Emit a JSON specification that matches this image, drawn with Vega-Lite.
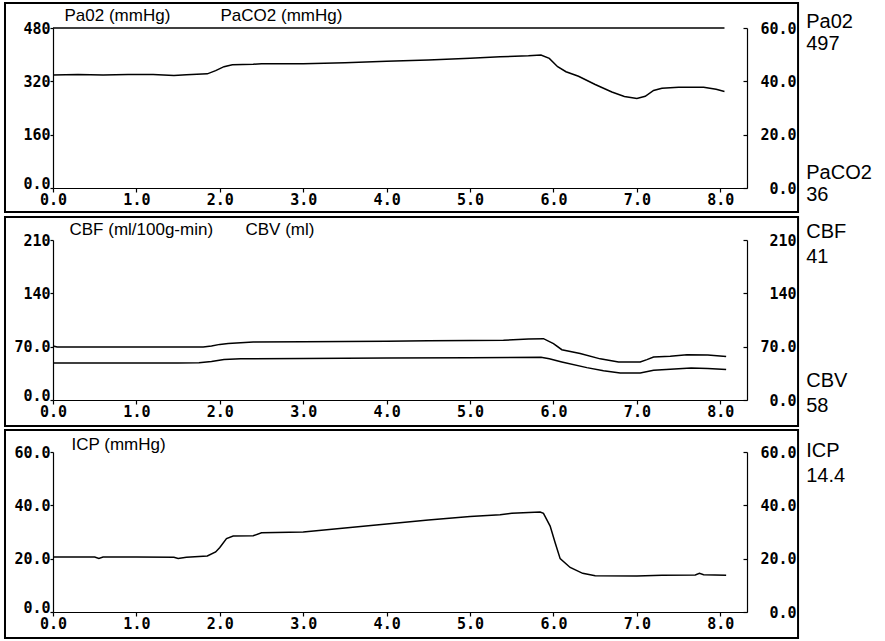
{
  "$schema": "https://vega.github.io/schema/vega-lite/v6.json",
  "background": "white",
  "padding": {"left": 3, "top": 2, "right": 5, "bottom": 2},
  "bounds": "flush",
  "spacing": 52,
  "config": {
    "view": {"stroke": null},
    "axis": {
      "labelFont": "DejaVu Sans Mono", "labelFontWeight": "bold", "labelFontSize": 15, "labelColor": "black",
      "domainColor": "black", "domainWidth": 1.2, "tickColor": "black", "tickWidth": 1.2, "grid": false,
      "labelOverlap": false, "labelFlush": false,
      "titleFont": "Liberation Sans", "titleFontWeight": "normal", "titleFontSize": 17, "titleColor": "black"
    },
    "text": {"font": "Liberation Sans", "fontSize": 20, "color": "black"},
    "line": {"color": "black", "strokeWidth": 1.5}
  },
  "vconcat": [
    {
      "width": 694, "height": 160,
      "resolve": {"scale": {"y": "independent"}},
      "layer": [
        {
          "data": {"values": [{"t": 0, "pao2": 497}, {"t": 1, "pao2": 497}, {"t": 2, "pao2": 497}, {"t": 3, "pao2": 497}, {"t": 4, "pao2": 497}, {"t": 5, "pao2": 497}, {"t": 6, "pao2": 497}, {"t": 7, "pao2": 497}, {"t": 8.05, "pao2": 497}]},
          "mark": {"type": "line"},
          "encoding": {
            "x": {"field": "t", "type": "quantitative", "scale": {"domain": [0, 8.32], "nice": false, "zero": false}, "axis": {"values": [0, 1, 2, 3, 4, 5, 6, 7, 8], "format": ".1f", "tickSize": 4, "labelPadding": 0, "title": null}},
            "y": {"field": "pao2", "type": "quantitative", "scale": {"domain": [0, 480], "nice": false, "clamp": true},
              "axis": {"orient": "left", "values": [0, 160, 320, 480], "labelExpr": "datum.value >= 100 ? format(datum.value, 'd') : format(datum.value, '.1f')", "tickSize": 3, "labelPadding": 0,
                "labelBaseline": {"condition": {"test": "datum.value == 0", "value": "alphabetic"}, "value": "middle"},
                "title": "Pa02 (mmHg)", "titleAngle": 0, "titleAlign": "left", "titleBaseline": "alphabetic", "titleX": 11, "titleY": -8}}
          }
        },
        {
          "data": {"values": [
            {"t": 0, "paco2": 42.4}, {"t": 0.3, "paco2": 42.6}, {"t": 0.6, "paco2": 42.4}, {"t": 0.9, "paco2": 42.6}, {"t": 1.2, "paco2": 42.6}, {"t": 1.45, "paco2": 42.2}, {"t": 1.6, "paco2": 42.5}, {"t": 1.85, "paco2": 42.8}, {"t": 1.95, "paco2": 44}, {"t": 2.05, "paco2": 45.5}, {"t": 2.15, "paco2": 46.2}, {"t": 2.4, "paco2": 46.4}, {"t": 2.5, "paco2": 46.6}, {"t": 3.0, "paco2": 46.6}, {"t": 3.5, "paco2": 47}, {"t": 4.0, "paco2": 47.5}, {"t": 4.5, "paco2": 48}, {"t": 5.0, "paco2": 48.7}, {"t": 5.36, "paco2": 49.2}, {"t": 5.7, "paco2": 49.6}, {"t": 5.85, "paco2": 49.9}, {"t": 5.95, "paco2": 48.6}, {"t": 6.05, "paco2": 45.5}, {"t": 6.15, "paco2": 43.6}, {"t": 6.3, "paco2": 41.9}, {"t": 6.5, "paco2": 38.8}, {"t": 6.7, "paco2": 36}, {"t": 6.85, "paco2": 34.3}, {"t": 7.0, "paco2": 33.6}, {"t": 7.1, "paco2": 34.4}, {"t": 7.2, "paco2": 36.6}, {"t": 7.3, "paco2": 37.4}, {"t": 7.5, "paco2": 37.8}, {"t": 7.8, "paco2": 37.8}, {"t": 7.95, "paco2": 37.0}, {"t": 8.05, "paco2": 36.2}
          ]},
          "mark": {"type": "line"},
          "encoding": {
            "x": {"field": "t", "type": "quantitative", "scale": {"domain": [0, 8.32], "nice": false, "zero": false}, "axis": {"values": [0, 1, 2, 3, 4, 5, 6, 7, 8], "format": ".1f", "tickSize": 4, "labelPadding": 0, "title": null}},
            "y": {"field": "paco2", "type": "quantitative", "scale": {"domain": [0, 60], "nice": false},
              "axis": {"orient": "right", "values": [0, 20, 40, 60], "format": ".1f", "tickSize": -4, "labelPadding": 53, "labelAlign": "right",
                "title": "PaCO2 (mmHg)", "titleAngle": 0, "titleAlign": "left", "titleBaseline": "alphabetic", "titleX": -527, "titleY": -8}}
          }
        },
        {
          "data": {"values": [{"panel": "blood gases"}]},
          "mark": {"type": "rect", "fill": "transparent", "stroke": "black", "strokeWidth": 2},
          "encoding": {
            "x": {"datum": -0.5755, "type": "quantitative", "scale": {"domain": [0, 8.32], "nice": false, "zero": false}, "axis": {"values": [0, 1, 2, 3, 4, 5, 6, 7, 8], "format": ".1f", "tickSize": 4, "labelPadding": 0, "title": null}},
            "x2": {"datum": 8.932},
            "y": {"datum": 555, "type": "quantitative", "scale": {"domain": [0, 480], "nice": false}, "axis": null},
            "y2": {"datum": -72}
          }
        },
        {
          "data": {"values": [{"param": "Pa02", "reading": "497"}, {"param": "PaCO2", "reading": "36"}]},
          "mark": {"type": "text", "align": "left", "baseline": "alphabetic"},
          "encoding": {
            "x": {"datum": 9.03, "type": "quantitative", "scale": {"domain": [0, 8.32], "nice": false, "zero": false}, "axis": {"values": [0, 1, 2, 3, 4, 5, 6, 7, 8], "format": ".1f", "tickSize": 4, "labelPadding": 0, "title": null}},
            "y": {"field": "param", "type": "nominal", "scale": {"type": "point", "domain": ["Pa02", "PaCO2"], "range": [0, 151], "padding": 0}, "axis": null},
            "text": {"field": "param"}
          }
        },
        {
          "data": {"values": [{"param": "Pa02", "reading": "497"}, {"param": "PaCO2", "reading": "36"}]},
          "mark": {"type": "text", "align": "left", "baseline": "alphabetic", "dy": 22},
          "encoding": {
            "x": {"datum": 9.03, "type": "quantitative", "scale": {"domain": [0, 8.32], "nice": false, "zero": false}, "axis": {"values": [0, 1, 2, 3, 4, 5, 6, 7, 8], "format": ".1f", "tickSize": 4, "labelPadding": 0, "title": null}},
            "y": {"field": "param", "type": "nominal", "scale": {"type": "point", "domain": ["Pa02", "PaCO2"], "range": [0, 151], "padding": 0}, "axis": null},
            "text": {"field": "reading"}
          }
        }
      ]
    },
    {
      "width": 694, "height": 160,
      "resolve": {"scale": {"y": "independent"}},
      "layer": [
        {
          "data": {"values": [
            {"t": 0, "cbf": 48.6}, {"t": 0.5, "cbf": 48.6}, {"t": 1.0, "cbf": 48.6}, {"t": 1.5, "cbf": 48.7}, {"t": 1.75, "cbf": 48.8}, {"t": 1.9, "cbf": 50.5}, {"t": 2.05, "cbf": 53}, {"t": 2.25, "cbf": 54.2}, {"t": 3.0, "cbf": 54.5}, {"t": 4.0, "cbf": 55}, {"t": 5.0, "cbf": 55.5}, {"t": 5.85, "cbf": 56}, {"t": 5.95, "cbf": 54}, {"t": 6.1, "cbf": 50}, {"t": 6.4, "cbf": 42.5}, {"t": 6.6, "cbf": 38.5}, {"t": 6.8, "cbf": 35.5}, {"t": 7.04, "cbf": 35.4}, {"t": 7.2, "cbf": 39}, {"t": 7.65, "cbf": 42}, {"t": 7.85, "cbf": 41.5}, {"t": 8.07, "cbf": 40}
          ]},
          "mark": {"type": "line"},
          "encoding": {
            "x": {"field": "t", "type": "quantitative", "scale": {"domain": [0, 8.32], "nice": false, "zero": false}, "axis": {"values": [0, 1, 2, 3, 4, 5, 6, 7, 8], "format": ".1f", "tickSize": 4, "labelPadding": 0, "title": null}},
            "y": {"field": "cbf", "type": "quantitative", "scale": {"domain": [0, 210], "nice": false},
              "axis": {"orient": "left", "values": [0, 70, 140, 210], "labelExpr": "datum.value >= 100 ? format(datum.value, 'd') : format(datum.value, '.1f')", "tickSize": 3, "labelPadding": 0,
                "labelBaseline": {"condition": {"test": "datum.value == 0", "value": "alphabetic"}, "value": "middle"},
                "title": "CBF (ml/100g-min)", "titleAngle": 0, "titleAlign": "left", "titleBaseline": "alphabetic", "titleX": 16, "titleY": -6}}
          }
        },
        {
          "data": {"values": [
            {"t": 0, "cbv": 71}, {"t": 0.05, "cbv": 69.5}, {"t": 0.5, "cbv": 69.5}, {"t": 1.0, "cbv": 69.5}, {"t": 1.5, "cbv": 69.5}, {"t": 1.8, "cbv": 69.6}, {"t": 1.9, "cbv": 71}, {"t": 2.0, "cbv": 73}, {"t": 2.1, "cbv": 74}, {"t": 2.4, "cbv": 76}, {"t": 3.0, "cbv": 76.5}, {"t": 3.5, "cbv": 76.8}, {"t": 4.0, "cbv": 77.2}, {"t": 4.5, "cbv": 77.8}, {"t": 5.0, "cbv": 78}, {"t": 5.4, "cbv": 78.3}, {"t": 5.7, "cbv": 80}, {"t": 5.88, "cbv": 80.5}, {"t": 6.0, "cbv": 74}, {"t": 6.1, "cbv": 66}, {"t": 6.32, "cbv": 61}, {"t": 6.56, "cbv": 54}, {"t": 6.78, "cbv": 50}, {"t": 7.04, "cbv": 50}, {"t": 7.12, "cbv": 53}, {"t": 7.2, "cbv": 56.4}, {"t": 7.4, "cbv": 57.5}, {"t": 7.6, "cbv": 59.5}, {"t": 7.85, "cbv": 59}, {"t": 8.07, "cbv": 57}
          ]},
          "mark": {"type": "line"},
          "encoding": {
            "x": {"field": "t", "type": "quantitative", "scale": {"domain": [0, 8.32], "nice": false, "zero": false}, "axis": {"values": [0, 1, 2, 3, 4, 5, 6, 7, 8], "format": ".1f", "tickSize": 4, "labelPadding": 0, "title": null}},
            "y": {"field": "cbv", "type": "quantitative", "scale": {"domain": [0, 210], "nice": false},
              "axis": {"orient": "right", "values": [0, 70, 140, 210], "labelExpr": "datum.value >= 100 ? format(datum.value, 'd') : format(datum.value, '.1f')", "tickSize": -4, "labelPadding": 53, "labelAlign": "right",
                "title": "CBV (ml)", "titleAngle": 0, "titleAlign": "left", "titleBaseline": "alphabetic", "titleX": -502, "titleY": -6}}
          }
        },
        {
          "data": {"values": [{"panel": "cerebral blood"}]},
          "mark": {"type": "rect", "fill": "transparent", "stroke": "black", "strokeWidth": 2},
          "encoding": {
            "x": {"datum": -0.5755, "type": "quantitative", "scale": {"domain": [0, 8.32], "nice": false, "zero": false}, "axis": {"values": [0, 1, 2, 3, 4, 5, 6, 7, 8], "format": ".1f", "tickSize": 4, "labelPadding": 0, "title": null}},
            "x2": {"datum": 8.932},
            "y": {"datum": 240.19, "type": "quantitative", "scale": {"domain": [0, 210], "nice": false}, "axis": null},
            "y2": {"datum": -34.1}
          }
        },
        {
          "data": {"values": [{"param": "CBF", "reading": "41"}, {"param": "CBV", "reading": "58"}]},
          "mark": {"type": "text", "align": "left", "baseline": "alphabetic"},
          "encoding": {
            "x": {"datum": 9.03, "type": "quantitative", "scale": {"domain": [0, 8.32], "nice": false, "zero": false}, "axis": {"values": [0, 1, 2, 3, 4, 5, 6, 7, 8], "format": ".1f", "tickSize": 4, "labelPadding": 0, "title": null}},
            "y": {"field": "param", "type": "nominal", "scale": {"type": "point", "domain": ["CBF", "CBV"], "range": [-2, 147], "padding": 0}, "axis": null},
            "text": {"field": "param"}
          }
        },
        {
          "data": {"values": [{"param": "CBF", "reading": "41"}, {"param": "CBV", "reading": "58"}]},
          "mark": {"type": "text", "align": "left", "baseline": "alphabetic", "dy": 25},
          "encoding": {
            "x": {"datum": 9.03, "type": "quantitative", "scale": {"domain": [0, 8.32], "nice": false, "zero": false}, "axis": {"values": [0, 1, 2, 3, 4, 5, 6, 7, 8], "format": ".1f", "tickSize": 4, "labelPadding": 0, "title": null}},
            "y": {"field": "param", "type": "nominal", "scale": {"type": "point", "domain": ["CBF", "CBV"], "range": [-2, 147], "padding": 0}, "axis": null},
            "text": {"field": "reading"}
          }
        }
      ]
    },
    {
      "width": 694, "height": 160,
      "resolve": {"scale": {"y": "independent"}},
      "layer": [
        {
          "data": {"name": "icp", "values": [
            {"t": 0, "icp": 20.6}, {"t": 0.5, "icp": 20.6}, {"t": 0.55, "icp": 20.1}, {"t": 0.6, "icp": 20.6}, {"t": 1.0, "icp": 20.6}, {"t": 1.45, "icp": 20.5}, {"t": 1.5, "icp": 20.1}, {"t": 1.6, "icp": 20.5}, {"t": 1.85, "icp": 21}, {"t": 1.95, "icp": 22.5}, {"t": 2.0, "icp": 24.2}, {"t": 2.08, "icp": 27.5}, {"t": 2.16, "icp": 28.5}, {"t": 2.4, "icp": 28.6}, {"t": 2.5, "icp": 29.7}, {"t": 3.0, "icp": 30}, {"t": 3.5, "icp": 31.5}, {"t": 4.0, "icp": 33}, {"t": 4.5, "icp": 34.5}, {"t": 5.0, "icp": 35.8}, {"t": 5.36, "icp": 36.5}, {"t": 5.5, "icp": 37}, {"t": 5.84, "icp": 37.5}, {"t": 5.88, "icp": 37}, {"t": 5.96, "icp": 32.2}, {"t": 6.02, "icp": 26}, {"t": 6.08, "icp": 20}, {"t": 6.2, "icp": 16.7}, {"t": 6.35, "icp": 14.5}, {"t": 6.5, "icp": 13.6}, {"t": 7.0, "icp": 13.5}, {"t": 7.3, "icp": 13.8}, {"t": 7.7, "icp": 13.9}, {"t": 7.75, "icp": 14.5}, {"t": 7.8, "icp": 14}, {"t": 8.07, "icp": 13.8}
          ]},
          "mark": {"type": "line"},
          "encoding": {
            "x": {"field": "t", "type": "quantitative", "scale": {"domain": [0, 8.32], "nice": false, "zero": false}, "axis": {"values": [0, 1, 2, 3, 4, 5, 6, 7, 8], "format": ".1f", "tickSize": 4, "labelPadding": 0, "title": null}},
            "y": {"field": "icp", "type": "quantitative", "scale": {"domain": [0, 60], "nice": false},
              "axis": {"orient": "left", "values": [0, 20, 40, 60], "format": ".1f", "tickSize": 3, "labelPadding": 0,
                "labelBaseline": {"condition": {"test": "datum.value == 0", "value": "alphabetic"}, "value": "middle"},
                "title": "ICP (mmHg)", "titleAngle": 0, "titleAlign": "left", "titleBaseline": "alphabetic", "titleX": 18, "titleY": -3}}
          }
        },
        {
          "data": {"name": "icp"},
          "mark": {"type": "line", "opacity": 0},
          "encoding": {
            "x": {"field": "t", "type": "quantitative", "scale": {"domain": [0, 8.32], "nice": false, "zero": false}, "axis": {"values": [0, 1, 2, 3, 4, 5, 6, 7, 8], "format": ".1f", "tickSize": 4, "labelPadding": 0, "title": null}},
            "y": {"field": "icp", "type": "quantitative", "scale": {"domain": [0, 60], "nice": false},
              "axis": {"orient": "right", "values": [0, 20, 40, 60], "format": ".1f", "tickSize": -4, "labelPadding": 53, "labelAlign": "right", "title": null}}
          }
        },
        {
          "data": {"values": [{"panel": "intracranial pressure"}]},
          "mark": {"type": "rect", "fill": "transparent", "stroke": "black", "strokeWidth": 2},
          "encoding": {
            "x": {"datum": -0.5755, "type": "quantitative", "scale": {"domain": [0, 8.32], "nice": false, "zero": false}, "axis": {"values": [0, 1, 2, 3, 4, 5, 6, 7, 8], "format": ".1f", "tickSize": 4, "labelPadding": 0, "title": null}},
            "x2": {"datum": 8.932},
            "y": {"datum": 68.25, "type": "quantitative", "scale": {"domain": [0, 60], "nice": false}, "axis": null},
            "y2": {"datum": -9.75}
          }
        },
        {
          "data": {"values": [{"param": "ICP", "reading": "14.4"}]},
          "mark": {"type": "text", "align": "left", "baseline": "alphabetic"},
          "encoding": {
            "x": {"datum": 9.03, "type": "quantitative", "scale": {"domain": [0, 8.32], "nice": false, "zero": false}, "axis": {"values": [0, 1, 2, 3, 4, 5, 6, 7, 8], "format": ".1f", "tickSize": 4, "labelPadding": 0, "title": null}},
            "y": {"field": "param", "type": "nominal", "scale": {"type": "point", "domain": ["ICP"], "range": [4, 5], "padding": 0}, "axis": null},
            "text": {"field": "param"}
          }
        },
        {
          "data": {"values": [{"param": "ICP", "reading": "14.4"}]},
          "mark": {"type": "text", "align": "left", "baseline": "alphabetic", "dy": 25},
          "encoding": {
            "x": {"datum": 9.03, "type": "quantitative", "scale": {"domain": [0, 8.32], "nice": false, "zero": false}, "axis": {"values": [0, 1, 2, 3, 4, 5, 6, 7, 8], "format": ".1f", "tickSize": 4, "labelPadding": 0, "title": null}},
            "y": {"field": "param", "type": "nominal", "scale": {"type": "point", "domain": ["ICP"], "range": [4, 5], "padding": 0}, "axis": null},
            "text": {"field": "reading"}
          }
        }
      ]
    }
  ]
}
